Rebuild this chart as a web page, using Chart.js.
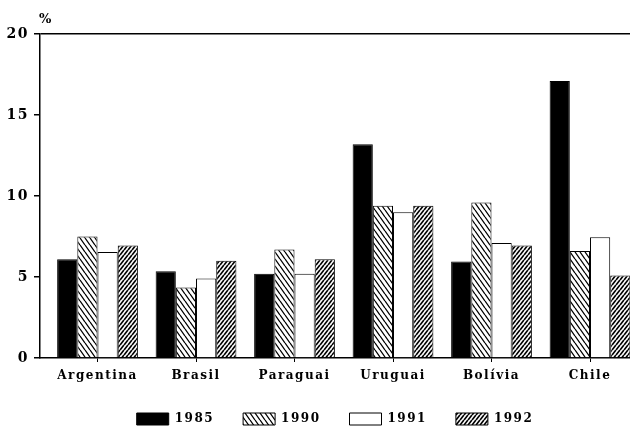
<!DOCTYPE html>
<html>
<head>
<meta charset="utf-8">
<script src="https://cdn.jsdelivr.net/npm/chart.js@4"></script>
<style>
html,body{margin:0;padding:0;background:#fff;}
#wrap{width:630px;height:434px;position:relative;}
</style>
</head>
<body>
<div id="wrap"><canvas id="c" width="630" height="434"></canvas></div>
<script>
const categories = ["Argentina", "Brasil", "Paraguai", "Uruguai", "Bolívia", "Chile"];
const seriesLabels = ["1985", "1990", "1991", "1992"];
const v1985 = [6.1, 5.35, 5.2, 13.2, 5.95, 17.1];
const v1990 = [7.5, 4.35, 6.7, 9.4, 9.6, 6.6];
const v1991 = [6.55, 4.9, 5.2, 9.0, 7.1, 7.45];
const v1992 = [6.95, 6.0, 6.1, 9.4, 6.95, 5.1];
const yTicks = [0, 5, 10, 15, 20];

function makePattern(dir, w, h, lw) {
  const p = document.createElement('canvas');
  p.width = w; p.height = h;
  const g = p.getContext('2d');
  g.fillStyle = '#fff';
  g.fillRect(0, 0, w, h);
  g.strokeStyle = '#000';
  g.lineWidth = lw;
  g.beginPath();
  for (let k = -1; k <= 1; k++) {
    const o = k * w;
    if (dir === 'back') { g.moveTo(o, 0); g.lineTo(o + w, h); }
    else { g.moveTo(o, h); g.lineTo(o + w, 0); }
  }
  g.stroke();
  return document.getElementById('c').getContext('2d').createPattern(p, 'repeat');
}

const pat1990 = makePattern('back', 5, 7, 1.3);
const pat1992 = makePattern('fwd', 4, 5, 1.7);

const FONT = "'DejaVu Serif', 'Liberation Serif', serif";

function spacing(chart) { chart.ctx.letterSpacing = '1.5px'; }
const spacingPlugin = {
  id: 'spacing',
  afterInit: spacing,
  beforeUpdate: spacing,
  beforeLayout: spacing,
  beforeDraw: spacing
};

const pctPlugin = {
  id: 'pct',
  afterDraw(chart) {
    const ctx = chart.ctx;
    ctx.save();
    ctx.fillStyle = '#000';
    ctx.font = "bold 13px " + FONT;
    ctx.textAlign = 'left';
    ctx.textBaseline = 'alphabetic';
    ctx.fillText('%', chart.chartArea.left - 1, chart.chartArea.top - 11);
    ctx.restore();
  }
};

const toXY = arr => arr.map((y, i) => ({ x: i, y: y }));

new Chart(document.getElementById('c'), {
  type: 'bar',
  data: {
    datasets: [
      { label: seriesLabels[0], data: toXY(v1985), backgroundColor: '#000', borderColor: '#000', borderWidth: 1 },
      { label: seriesLabels[1], data: toXY(v1990), backgroundColor: pat1990, borderColor: '#000', borderWidth: 1 },
      { label: seriesLabels[2], data: toXY(v1991), backgroundColor: '#fff', borderColor: '#000', borderWidth: 1 },
      { label: seriesLabels[3], data: toXY(v1992), backgroundColor: pat1992, borderColor: '#000', borderWidth: 1 }
    ]
  },
  options: {
    responsive: false,
    animation: false,
    devicePixelRatio: 1,
    layout: { padding: { left: 0, right: 0, top: 34, bottom: -1 } },
    datasets: { bar: { categoryPercentage: 0.82, barPercentage: 1.0 } },
    plugins: {
      tooltip: { enabled: false },
      legend: {
        position: 'bottom',
        fullSize: false,
        labels: {
          color: '#000',
          boxWidth: 32,
          boxHeight: 12,
          padding: 29,
          font: { family: FONT, weight: 'bold', size: 12 }
        }
      }
    },
    scales: {
      x: {
        type: 'linear',
        offset: false,
        min: -0.584,
        max: 5.406,
        afterBuildTicks(scale) { scale.ticks = categories.map((c, i) => ({ value: i })); },
        afterFit(scale) { scale.height = 26; },
        grid: { offset: false, drawOnChartArea: false, color: '#000', tickColor: '#000', tickLength: 4, lineWidth: 1 },
        border: { color: '#000', width: 1.5 },
        ticks: {
          color: '#000',
          font: { family: FONT, weight: 'bold', size: 12 },
          padding: 7,
          maxRotation: 0,
          autoSkip: false,
          callback: (v) => categories[v]
        }
      },
      y: {
        min: 0, max: 20,
        afterBuildTicks(scale) { scale.ticks = yTicks.map(v => ({ value: v })); },
        afterFit(scale) { scale.width = 40; },
        grid: {
          color: ctx => (ctx.tick && ctx.tick.value === 20) ? '#000' : 'rgba(0,0,0,0)',
          tickColor: '#000',
          tickLength: 6,
          lineWidth: 1.5
        },
        border: { color: '#000', width: 1.5 },
        ticks: { color: '#000', font: { family: FONT, weight: 'bold', size: 14 }, padding: 5 }
      }
    }
  },
  plugins: [spacingPlugin, pctPlugin]
});
</script>
</body>
</html>
